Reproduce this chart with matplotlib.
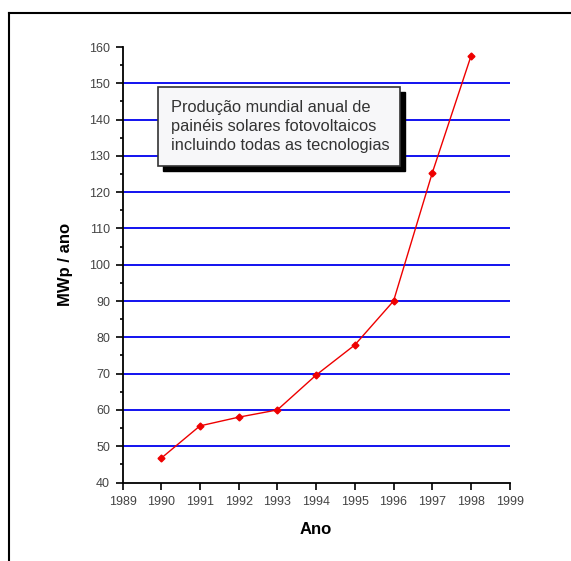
import matplotlib
matplotlib.use("Agg")
import matplotlib.pyplot as plt
from matplotlib.lines import Line2D
from matplotlib.patches import Rectangle
from matplotlib.ticker import MultipleLocator

plt.rcParams['font.family'] = ['Liberation Sans', 'DejaVu Sans']

years = [1990, 1991, 1992, 1993, 1994, 1995, 1996, 1997, 1998]
mwp = [46.7, 55.6, 58.0, 60.0, 69.6, 77.9, 90.0, 125.3, 157.5]
yticks = list(range(40, 161, 10))
xticks = list(range(1989, 2000))
title_text = "Produção mundial anual de\npainéis solares fotovoltaicos\nincluindo todas as tecnologias"

W, H = 571, 561
fig = plt.figure(figsize=(W / 100, H / 100), dpi=100)
ax = fig.add_axes([122.5 / W, 1 - 482.5 / H, (509.7 - 122.5) / W, (482.5 - 47) / H])

for v in yticks[1:-1]:
    ax.axhline(v, color='#0000ee', lw=1.3, zorder=1)

ax.plot(years, mwp, color='#ee0000', lw=1.0, marker='D', ms=3.5,
        mfc='#ee0000', mec='#ee0000', zorder=3, clip_on=False)

ax.set_xlim(1989, 1999)
ax.set_ylim(40, 160)
ax.set_xticks(xticks)
ax.set_yticks(yticks)
ax.yaxis.set_minor_locator(MultipleLocator(5))
ax.tick_params(axis='both', which='major', direction='out', length=5, width=1.2,
               labelsize=9, labelcolor='#444444')
ax.tick_params(axis='x', which='major', pad=5)
ax.tick_params(axis='y', which='major', pad=4)
ax.tick_params(axis='y', which='minor', direction='out', length=2.5, width=1.2)
for s in ['top', 'right']:
    ax.spines[s].set_visible(False)
for s in ['left', 'bottom']:
    ax.spines[s].set_linewidth(1.3)

ax.set_xlabel('Ano', fontsize=12, fontweight='bold', labelpad=10)
ax.set_ylabel('MWp / ano', fontsize=12, fontweight='bold', labelpad=11.5)

# Annotation box with shadow
bx0, by0, bx1, by1 = 158, 87, 400, 166
fig.add_artist(Rectangle(((bx0 + 5) / W, 1 - (by1 + 5) / H), (bx1 - bx0) / W, (by1 - by0) / H,
                         transform=fig.transFigure, facecolor='black', edgecolor='black', lw=1, zorder=4))
fig.add_artist(Rectangle((bx0 / W, 1 - by1 / H), (bx1 - bx0) / W, (by1 - by0) / H,
                         transform=fig.transFigure, facecolor='#f7f7f9', edgecolor='#333333', lw=1.2, zorder=5))
fig.text(171 / W, 1 - 126.5 / H, title_text, fontsize=11.8, color='#333333', va='center', ha='left',
         linespacing=1.3, zorder=6)

# Outer frame (left and top edges)
fig.add_artist(Line2D([9 / W, 9 / W], [0, 1 - 13 / H], transform=fig.transFigure, color='black', lw=1.5))
fig.add_artist(Line2D([9 / W, 1], [1 - 13 / H, 1 - 13 / H], transform=fig.transFigure, color='black', lw=1.5))

fig.savefig('out.png', dpi=100)
